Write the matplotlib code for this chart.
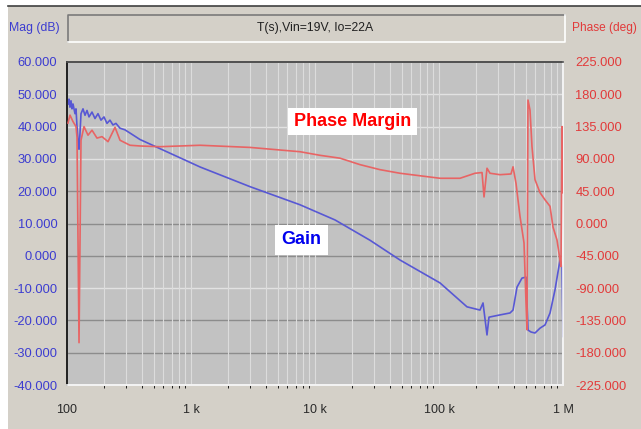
import matplotlib.pyplot as plt
from matplotlib.lines import Line2D
from matplotlib.patches import Rectangle
from matplotlib.ticker import FixedLocator, FuncFormatter, NullFormatter

plt.rcParams['font.family'] = ['Liberation Sans', 'DejaVu Sans']

# loop gain magnitude, T(s)
gain_freq = [101.9, 103.8, 105.7, 107.7, 109.7, 111.8, 116.0, 118.2, 120.4, 122.7,
             125.0, 127.3, 129.7, 134.6, 139.7, 145.0, 150.5, 159.1, 168.2, 177.8,
             188.0, 198.7, 210.1, 222.1, 234.8, 248.2, 267.6, 293.3, 322.2, 353.6,
             387.9, 425.6, 1183, 2994, 7568, 14500, 27800, 48450, 101900, 168200,
             214000, 226500, 243800, 253000, 310400, 373800, 395300, 425700, 466900,
             503300, 522300, 552400, 594800, 652900, 716600, 786000, 861400, 945900,
             982000, 1000000]
gain_db = [47.0, 48.5, 46.0, 48.0, 45.5, 47.0, 44.0, 45.5, 40.0, 36.0,
           33.0, 38.0, 44.0, 45.5, 43.5, 45.0, 43.0, 44.5, 42.5, 44.0,
           42.0, 43.0, 41.0, 42.0, 40.5, 41.0, 39.5, 39.0, 38.0, 37.0,
           36.0, 35.3, 27.5, 21.4, 15.8, 11.1, 4.8, -1.3, -8.4, -15.8,
           -16.8, -14.6, -24.5, -19.0, -18.3, -17.7, -16.8, -9.7, -6.9,
           -6.6, -23.0, -23.6, -23.9, -22.4, -21.4, -17.7, -10.6, -1.3,
           -3.5, -25.0]

# loop phase
phase_freq = [101.9, 105.7, 111.8, 118.2, 120.4, 125.0, 129.7, 137.1, 147.7, 159.1,
              174.5, 191.6, 214.1, 243.9, 267.6, 322.2, 387.9, 562.3, 1182, 2991,
              7568, 10970, 15910, 23070, 33440, 48480, 101900, 147700, 195200,
              222300, 230700, 243900, 257800, 310500, 380700, 395300, 417800,
              450000, 484800, 503000, 512500, 522000, 541900, 562300, 594700,
              652300, 715900, 785700, 830700, 894500, 945800, 963600, 981600, 1000000]
phase_deg = [140, 151, 142, 135, 120, -166, 116, 135, 123, 130,
             119, 121, 114, 134, 116, 109, 108, 107, 109, 106,
             100, 95, 91, 82, 75, 70, 63, 63, 70,
             71, 37, 77, 70, 68, 69, 79, 56,
             10, -27, -110, -148, 172, 158, 107, 61,
             43, 33, 24, -5, -23, -51, -60, 135, 43]

mag_ticks = list(range(-40, 61, 10))
phase_ticks = list(range(-225, 226, 45))
freq_ticks = [1e2, 1e3, 1e4, 1e5, 1e6]
freq_labels = ['100', '1 k', '10 k', '100 k', '1 M']

W, H = 641, 429
panel = '#d4d0c8'
blue_txt = '#3c3cd0'
red_txt = '#e23a3a'

fig = plt.figure(figsize=(W / 100, H / 100), dpi=100, facecolor='white')

# window panel with dark top edge
fig.add_artist(Rectangle((8 / W, 0), 1 - 8 / W, 1 - 6 / H, transform=fig.transFigure,
                         facecolor=panel, edgecolor='none', zorder=0))
fig.add_artist(Line2D([8 / W, 1], [1 - 6 / H, 1 - 6 / H], transform=fig.transFigure,
                      color='#404040', lw=1.2))

# sunken title box
bx0, bx1, by0, by1 = 68 / W, 565 / W, 1 - 42 / H, 1 - 15 / H
fig.add_artist(Line2D([bx0, bx0, bx1], [by0, by1, by1], transform=fig.transFigure,
                      color='#7a7a7a', lw=1.2))
fig.add_artist(Line2D([bx0, bx1, bx1], [by0, by0, by1], transform=fig.transFigure,
                      color='white', lw=1.2))
fig.text(315 / W, 1 - 28.5 / H, 'T(s),Vin=19V, Io=22A', ha='center', va='center',
         fontsize=8.8, color='#202020')
fig.text(9 / W, 1 - 28.5 / H, 'Mag (dB)', ha='left', va='center', fontsize=8.8,
         color=blue_txt)
fig.text(572 / W, 1 - 28.5 / H, 'Phase (deg)', ha='left', va='center', fontsize=8.6,
         color=red_txt)

ax = fig.add_axes([67 / W, 1 - 385 / H, 496 / W, 323 / H])
ax.set_facecolor('#c2c2c2')
ax.set_xscale('log')
ax.set_xlim(100, 1e6)
ax.set_ylim(-40, 60)

# grid
ax.xaxis.set_minor_locator(FixedLocator([m * 10 ** d for d in range(2, 6) for m in range(2, 10)]))
ax.xaxis.set_minor_formatter(NullFormatter())
ax.grid(True, which='minor', axis='x', color='#dcdcdc', lw=0.8)
ax.grid(True, which='major', axis='x', color='#dcdcdc', lw=0.8)
dark_rows = [20, 10, 0, -20, -30]
for v in mag_ticks[1:-1]:
    ax.axhline(v, color='#8c8c8c' if v in dark_rows else '#e2e2e2', lw=1.0, zorder=0.5)
ax.set_axisbelow(True)

ax.plot(gain_freq, gain_db, color='#5858d4', lw=1.2, zorder=3)

ax.set_yticks(mag_ticks)
ax.yaxis.set_major_formatter(FuncFormatter(lambda v, p: f'{v:.3f}'))
ax.set_xticks(freq_ticks)
ax.set_xticklabels(freq_labels)
ax.tick_params(axis='y', length=0, pad=7, labelsize=9.3, labelcolor=blue_txt)
ax.tick_params(axis='x', length=0, pad=14, labelsize=9, labelcolor='#2a2a2a')

ax2 = ax.twinx()
ax2.set_ylim(-225, 225)
ax2.plot(phase_freq, phase_deg, color='#e86464', lw=1.2, zorder=3)
ax2.set_yticks(phase_ticks)
ax2.yaxis.set_major_formatter(FuncFormatter(lambda v, p: f'{v:.3f}'))
ax2.tick_params(axis='y', length=0, pad=9, labelsize=9.3, labelcolor=red_txt)

for a in (ax, ax2):
    a.spines['left'].set_color('#202020')
    a.spines['top'].set_color('#505050')
    a.spines['right'].set_color('#f4f4f4')
    a.spines['bottom'].set_color('#f4f4f4')
    for s in a.spines.values():
        s.set_linewidth(1.2)

ax2.text(20050, 142, 'Phase Margin', ha='center', va='center', fontsize=13,
         fontweight='bold', color='#ff0000', zorder=5,
         bbox=dict(boxstyle='square,pad=0.3', facecolor='white', edgecolor='none'))
ax.text(7780, 4.9, 'Gain', ha='center', va='center', fontsize=13,
        fontweight='bold', color='#0000ee', zorder=5,
        bbox=dict(boxstyle='square,pad=0.35', facecolor='white', edgecolor='none'))

fig.savefig('out.png', dpi=100, facecolor=fig.get_facecolor())
